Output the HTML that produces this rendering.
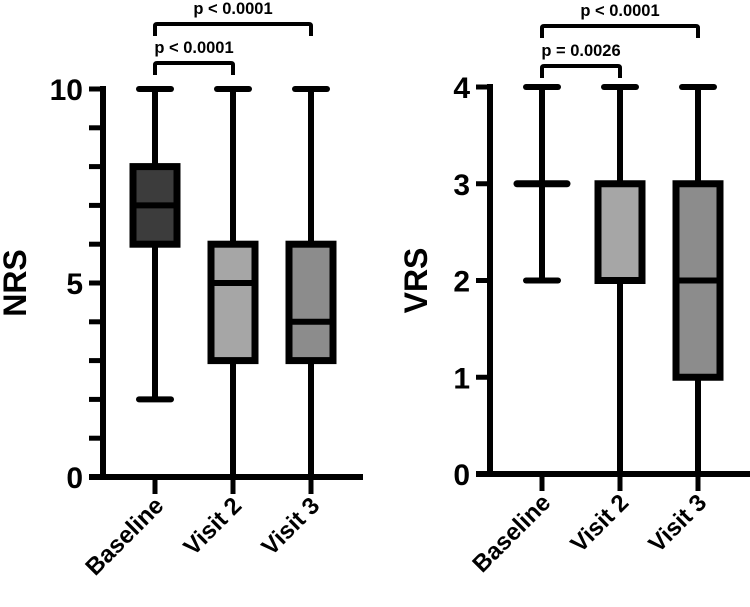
<!DOCTYPE html>
<html><head><meta charset="utf-8">
<style>body{margin:0;background:#fff}svg{display:block;font-family:"Liberation Sans",Arial,sans-serif;font-weight:bold}</style>
</head><body>
<svg id="c" width="750" height="607" viewBox="0 0 750 607"></svg>
<script>
const categories = ["Baseline","Visit 2","Visit 3"];
const nrsMin = [2,0,0];
const nrsQ1 = [6,3,3];
const nrsMed = [7,5,4];
const nrsQ3 = [8,6,6];
const nrsMax = [10,10,10];
const nrsTicks = [0,5,10];
const vrsMin = [2,0,0];
const vrsQ1 = [3,2,1];
const vrsMed = [3,2,2];
const vrsQ3 = [3,3,3];
const vrsMax = [4,4,4];
const vrsTicks = [0,1,2,3,4];
const fills = ["#3c3c3c","#a6a6a6","#8c8c8c"];
const nrsP = ["p < 0.0001","p < 0.0001"];
const vrsP = ["p = 0.0026","p < 0.0001"];

const svg=document.getElementById('c');
const NS='http://www.w3.org/2000/svg';
function mk(t,a,name,parent){const e=document.createElementNS(NS,t);for(const k in a)e.setAttribute(k,a[k]);


(parent||svg).appendChild(e);return e;}

function panel(cfg){
  const g=mk('g',{},cfg.name);
  const y=v=>cfg.y0+(cfg.y1-cfg.y0)*v/cfg.max;
  const x=i=>cfg.xc[i];
  const S={stroke:'#000','stroke-width':6,fill:'none'};
  mk('line',{x1:cfg.ax,y1:y(cfg.max)-3,x2:cfg.ax,y2:y(0)+3,...S},'y-axis-line',g);
  for(let v=0;v<=cfg.max;v+=cfg.minor){
    mk('line',{x1:cfg.ax-14,y1:y(v),x2:cfg.ax,y2:y(v),...S,'stroke-width':5},'y-tick',g);
  }
  cfg.ticks.forEach(v=>{const t=mk('text',{x:cfg.ax-20,y:y(v)+11,'text-anchor':'end','font-size':30},'y-tick-label',g);t.textContent=v;});
  mk('line',{x1:cfg.ax-14,y1:y(0),x2:cfg.xend,y2:y(0),...S},'x-axis-line',g);
  categories.forEach((c,i)=>{
    mk('line',{x1:x(i),y1:y(0),x2:x(i),y2:y(0)+17,...S,'stroke-width':5},'x-tick',g);
    const t=mk('text',{transform:`translate(${x(i)+10},${y(0)+30}) rotate(-45)`,'text-anchor':'end','font-size':24},'x-tick-label',g);t.textContent=c;
  });
  const at=mk('text',{transform:`translate(${cfg.titleX},${y(cfg.max/2)}) rotate(-90)`,'text-anchor':'middle','font-size':32},'y-axis-title',g);at.textContent=cfg.title;
  categories.forEach((c,i)=>{
    const bg=mk('g',{},'box-'+c.toLowerCase().replace(' ','-'),g);
    mk('line',{x1:x(i),y1:y(cfg.mx[i]),x2:x(i),y2:y(cfg.mn[i]),...S},'whisker',bg);
    mk('line',{x1:x(i)-16,y1:y(cfg.mx[i]),x2:x(i)+16,y2:y(cfg.mx[i]),...S,'stroke-linecap':'round'},'whisker-cap-max',bg);
    mk('line',{x1:x(i)-16,y1:y(cfg.mn[i]),x2:x(i)+16,y2:y(cfg.mn[i]),...S,'stroke-linecap':'round'},'whisker-cap-min',bg);
    const h=y(cfg.q1[i])-y(cfg.q3[i]);
    if(h>0) mk('rect',{x:x(i)-22,y:y(cfg.q3[i]),width:44,height:h,fill:fills[i],stroke:'#000','stroke-width':7},'iqr-box',bg);
    mk('line',{x1:x(i)-25,y1:y(cfg.md[i]),x2:x(i)+25,y2:y(cfg.md[i]),...S,'stroke-width':h>0?6:7,'stroke-linecap':h>0?'butt':'round'},'median-line',bg);
  });
  const br=[[0,1,cfg.bY[0],cfg.p[0]],[0,2,cfg.bY[1],cfg.p[1]]];
  br.forEach(([a,b,by,p])=>{
    mk('path',{d:`M${x(a)},${by+12} L${x(a)},${by+2} Q${x(a)},${by} ${x(a)+2},${by} L${x(b)-2},${by} Q${x(b)},${by} ${x(b)},${by+2} L${x(b)},${by+12}`,fill:'none',stroke:'#000','stroke-width':4},'significance-bracket',g);
    const t=mk('text',{x:(x(a)+x(b))/2,y:by-10,'text-anchor':'middle','font-size':16.5},'p-value-label',g);t.textContent=p;
  });
}
panel({name:'nrs-chart',ax:103,xend:363,y0:477,y1:89,max:10,minor:1,ticks:nrsTicks,xc:[155,233,311],
  mn:nrsMin,q1:nrsQ1,md:nrsMed,q3:nrsQ3,mx:nrsMax,title:'NRS',titleX:26,bY:[63,24],p:nrsP});
panel({name:'vrs-chart',ax:490,xend:750,y0:474,y1:87,max:4,minor:1,ticks:vrsTicks,xc:[542,620,698],
  mn:vrsMin,q1:vrsQ1,md:vrsMed,q3:vrsQ3,mx:vrsMax,title:'VRS',titleX:427,bY:[66,26],p:vrsP});
</script>
</body></html>
